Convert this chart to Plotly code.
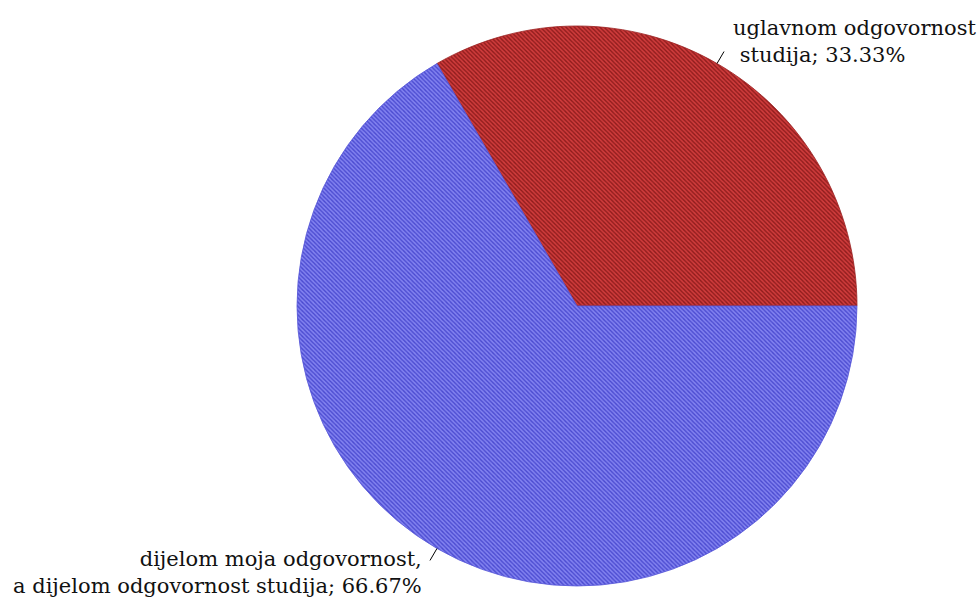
import math
import plotly.graph_objects as go

labels = ["uglavnom odgovornost<br>&nbsp;studija", "dijelom moja odgovornost,<br>a dijelom odgovornost studija"]
values = [33.33, 66.67]
fg_colors = ["#8e1c1c", "#4a4ad0"]
bg_colors = ["#d03c3c", "#8282f0"]
line_colors = ["#9a2020", "#5858d8"]

W, H = 977, 601
cx, cy, r = 577, 306, 280

fig = go.Figure()
fig.add_trace(go.Pie(
    labels=labels,
    values=values,
    sort=False,
    direction="clockwise",
    rotation=-30,
    textinfo="none",
    hoverinfo="label+percent",
    marker=dict(
        colors=bg_colors,
        line=dict(color=line_colors, width=0.8),
        pattern=dict(shape=["\\", "\\"], size=3, solidity=0.45,
                     fgcolor=fg_colors, bgcolor=bg_colors, fillmode="replace"),
    ),
    domain=dict(x=[(cx - r) / W, (cx + r) / W], y=[(H - cy - r) / H, (H - cy + r) / H]),
    showlegend=False,
))

# labels placed at the middle angle of each slice (math angle, counterclockwise from east)
total = sum(values)
start = 0.0
font = dict(family="DejaVu Serif, serif", size=21, color="#111111")
for i, v in enumerate(values):
    mid = start + v / total * 360 / 2
    start += v / total * 360
    a = math.radians(mid)
    x0 = cx + r * math.cos(a)
    y0 = cy - r * math.sin(a)
    dx = 1 if math.cos(a) >= 0 else -1
    dy = 1 if math.sin(a) >= 0 else -1
    x1 = x0 + 7 * dx
    y1 = y0 - 12 * dy
    fig.add_shape(type="line", xref="paper", yref="paper",
                  x0=x0 / W, y0=1 - y0 / H, x1=x1 / W, y1=1 - y1 / H,
                  line=dict(color="black", width=1))
    text = labels[i] + "; " + f"{v:.2f}%"
    if dx > 0:
        fig.add_annotation(xref="paper", yref="paper", x=(x1 + 7) / W, y=1 - (y1 - 10) / H,
                           text=text, showarrow=False, xanchor="left", yanchor="middle",
                           align="left", font=font)
    else:
        fig.add_annotation(xref="paper", yref="paper", x=(x1 - 6) / W, y=1 - (y1 + 12) / H,
                           text=text, showarrow=False, xanchor="right", yanchor="middle",
                           align="right", font=font)

fig.update_layout(width=W, height=H, margin=dict(l=0, r=0, t=0, b=0),
                  paper_bgcolor="white", plot_bgcolor="white")
fig.write_html("out.html", config={"displayModeBar": False},
               post_script="document.body.style.margin='0';")
